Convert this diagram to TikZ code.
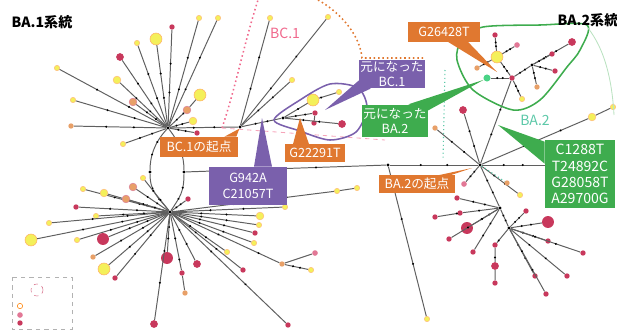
\documentclass[tikz,border=0pt]{standalone}
\usepackage{fontspec}
\setmainfont{Noto Sans CJK JP}
\usetikzlibrary{decorations.markings}

\definecolor{boxorange}{RGB}{224,120,48}
\definecolor{boxpurple}{RGB}{122,96,172}
\definecolor{boxgreen}{RGB}{62,172,78}
\definecolor{bcpink}{RGB}{240,104,140}
\definecolor{bateal}{RGB}{92,200,168}
\definecolor{leafyel}{RGB}{244,240,90}
\definecolor{leafred}{RGB}{200,56,92}
\definecolor{leaforg}{RGB}{232,160,104}
\definecolor{leafpnk}{RGB}{226,120,150}
\definecolor{edgegray}{RGB}{95,95,95}

\tikzset{
  edge/.style={draw=edgegray, line width=0.7pt,
    postaction={decorate, decoration={markings,
      mark=at position 0.35 with {\fill[black] (0,0) circle (0.8pt);},
      mark=at position 0.65 with {\fill[black] (0,0) circle (0.8pt);}}}},
  hub/.style={circle, fill=black, inner sep=0pt, minimum size=2.2pt},
  leaf/.style={circle, inner sep=0pt, line width=0.4pt},
  yelS/.style={leaf, fill=leafyel, draw=orange!50, minimum size=3.8pt},
  yelM/.style={leaf, fill=leafyel, draw=orange!50, minimum size=5.5pt},
  yelL/.style={leaf, fill=leafyel, draw=orange!60, minimum size=8.5pt},
  redS/.style={leaf, fill=leafred, minimum size=3.8pt},
  redM/.style={leaf, fill=leafred, minimum size=5.5pt},
  redL/.style={leaf, fill=leafred, minimum size=8.5pt},
  orgS/.style={leaf, fill=leaforg, minimum size=3.8pt},
  orgM/.style={leaf, fill=leaforg, draw=leafred!60, minimum size=5.5pt},
  pnkS/.style={leaf, fill=leafpnk, minimum size=4pt},
  tealS/.style={leaf, fill=bateal!80!green, minimum size=5pt},
  callout/.style={text=white, inner sep=1pt, align=center,
    font=\fontsize{9}{11}\selectfont},
  orgbox/.style={callout, fill=boxorange},
  purbox/.style={callout, fill=boxpurple},
  grnbox/.style={callout, fill=boxgreen}
}

\begin{document}
\begin{tikzpicture}[x=0.025cm, y=-0.025cm]
\useasboundingbox (0,0) rectangle (617,329);

% hubs
\node[hub] (hubA) at (168,128) {};%BA.1 oben
\node[hub] (hubB) at (170,212) {};%BA.1 unten
\node[hub] (hubC) at (240,127) {};%BC.1 Ursprung
\node[hub] (hubK) at (283,118) {};
\node[hub] (loopL) at (150,172) {};
\node[hub] (loopR) at (184,172) {};
\node[hub] (hubM) at (388,165) {};
\node[hub] (hubD) at (480,165) {};%BA.2 Ursprung
\node[hub] (hubE) at (500,208) {};
\node[hub] (hubF) at (509,228) {};
\node[redS] (hubG) at (495,245) {};
\node[redS] (hubH) at (512,78) {};%BA.2 Gruppe
\node[hub] (hubJ) at (532,65) {};
\node[yelL] (hubY) at (497,57) {};
\node[tealS] (ba2node) at (487,78) {};

% loop between the two BA.1 hubs
\draw[edge] (hubA) .. controls +(-14,15) and +(0,-15) .. (loopL);
\draw[edge] (loopL) .. controls +(0,20) and +(-12,-15) .. (hubB);
\draw[edge] (hubA) .. controls +(12,15) and +(0,-15) .. (loopR);
\draw[edge] (loopR) .. controls +(0,20) and +(10,-15) .. (hubB);

% BA.1 upper star
\foreach \x/\y/\s [count=\i] in {199/18/yelS, 218/18/yelS, 172/27/redS,
    156/39/yelL, 137/43/yelS, 120/57/redM, 57/68/yelS, 117/80/yelM,
    73/100/yelS, 133/102/orgM, 71/126/orgS, 123/144/yelS, 197/133/redS,
    193/121/yelM}{
  \node[\s] (a\i) at (\x,\y) {};
  \draw[edge] (hubA) -- (a\i);
}
\node[orgM] (a20) at (187,110) {};
\node[yelL] (a21) at (200,95) {};
\draw[edge] (hubA) -- (a20) -- (a21);

% BA.1 lower star
\foreach \x/\y/\s [count=\i] in {143/178/yelS, 133/187/orgM, 83/189/yelS,
    104/193/yelM, 126/199/orgM, 76/207/redS, 96/216/yelS, 49/223/yelS,
    31/240/yelL, 77/240/yelS, 103/239/redL, 93/257/orgS, 104/269/yelL,
    115/278/redS, 167/258/redL, 197/264/redM, 154/324/redM, 243/270/redS,
    288/325/redS, 188/199/redS, 285/207/yelS, 260/216/yelM, 259/225/yelS,
    255/233/redS, 254/243/yelS, 227/252/yelS}{
  \node[\s] (b\i) at (\x,\y) {};
  \draw[edge] (hubB) -- (b\i);
}
\node[redS] (b30) at (182,273) {};
\node[orgS] (b31) at (185,293) {};
\draw[edge] (hubB) -- (b30) -- (b31);
\node[yelS] (b32) at (337,191) {};
\node[yelS] (b33) at (357,188) {};
\draw[edge] (hubB) -- (b32) -- (b33);
\node[orgS] (b34) at (282,264) {};
\node[pnkS] (b35) at (315,253) {};
\node[yelS] (b36) at (311,270) {};
\draw[edge] (hubB) -- (b34) -- (b35);
\draw[edge] (b34) -- (b36);

% BC.1 branch
\draw[edge] (hubA) -- (hubC);
\foreach \x/\y/\s [count=\i] in {270/18/yelS, 328/17/yelS, 292/80/yelS}{
  \node[\s] (c\i) at (\x,\y) {};
  \draw[edge] (hubC) -- (c\i);
}
\draw[edge] (hubC) -- (hubK);
\node[yelL] (k1) at (313,100) {};
\node[yelS] (k2) at (339,92) {};
\node[redS] (k3) at (315,113) {};
\node[redS] (k4) at (314,123) {};
\node[redM] (k5) at (342,124) {};
\draw[edge] (hubK) -- (k1) -- (k2);
\draw[edge] (hubK) -- (k3) -- (k4);
\draw[edge] (hubK) -- (k5);

% long line to BA.2
\draw[edge] (loopR) -- (hubM);
\draw[edge] (hubM) -- (hubD);
\node[yelS] (m1) at (427,319) {};
\draw[edge] (hubM) -- (m1);

% BA.2 lower part
\foreach \x/\y/\s [count=\i] in {463/110/redM, 435/128/orgS, 464/184/pnkS,
    520/195/yelS}{
  \node[\s] (d\i) at (\x,\y) {};
  \draw[edge] (hubD) -- (d\i);
}
\node[yelM] (d10) at (592,117) {};
\node[yelS] (d11) at (613,107) {};
\draw[edge] (hubD) -- (d10) -- (d11);
\node[orgS] (d12) at (507,183) {};
\draw[bateal, dotted, line width=0.8pt] (hubD) -- (d12);
\draw[edge] (hubD) -- (hubE);
\draw[edge] (hubE) -- (hubF);
\draw[edge] (hubD) -- (hubH);

\foreach \x/\y/\s [count=\i] in {457/198/redS, 467/228/redL, 449/239/redS,
    473/252/redS}{
  \node[\s] (e\i) at (\x,\y) {};
  \draw[edge] (hubE) -- (e\i);
}
\node[redS] (e10) at (460,213) {};
\node[redS] (e11) at (435,217) {};
\draw[edge] (hubE) -- (e10) -- (e11);

\foreach \x/\y/\s [count=\i] in {526/211/redS, 548/222/redL, 548/241/redS,
    583/253/redS, 535/276/redS, 567/276/redS, 546/294/redS}{
  \node[\s] (f\i) at (\x,\y) {};
  \draw[edge] (hubF) -- (f\i);
}
\node[redM] (g1) at (495,266) {};
\node[redS] (g2) at (495,283) {};
\draw[edge] (hubF) -- (hubG) -- (g1) -- (g2);

% BA.2 group
\draw[edge] (hubH) -- (hubY);
\draw[edge] (hubH) -- (hubJ);
\draw[edge] (hubH) -- (ba2node);
\foreach \x/\y/\s [count=\i] in {495/35/redS, 517/45/pnkS, 477/68/orgS}{
  \node[\s] (y\i) at (\x,\y) {};
  \draw[edge] (hubY) -- (y\i);
}
\foreach \x/\y/\s [count=\i] in {572/42/redM, 552/54/redS, 555/71/redS,
    537/87/orgS}{
  \node[\s] (j\i) at (\x,\y) {};
  \draw[edge] (hubJ) -- (j\i);
}
\node[yelS] (h1) at (522,99) {};
\draw[edge] (hubH) -- (h1);

% lassos
\draw[bcpink, dotted, line width=1.1pt] (222,128) .. controls (235,90) and (245,40) .. (258,0);
\draw[bcpink!60, dashed, line width=0.6pt] (222,128) -- (385,140);
\draw[boxorange, dotted, line width=1.1pt] (318,0) .. controls (340,12) and (360,35) .. (362,58) -- (425,58);
\draw[boxpurple, line width=1.1pt] plot[smooth cycle] coordinates {(274,120) (300,100) (330,84) (358,88) (367,108) (356,132) (330,140) (300,131)};
\draw[boxgreen, line width=1.1pt] plot[smooth cycle] coordinates {(483,27) (540,25) (587,25) (580,50) (567,67) (540,100) (513,110) (473,90) (457,60) (462,40)};
\draw[boxgreen!35, line width=0.6pt] (588,28) .. controls (605,50) and (612,80) .. (614,115);
\draw[bateal, dotted, line width=0.8pt] (445,70) -- (443,160);

% titles
\node[font=\fontsize{10}{12}\selectfont\bfseries] (ba1title) at (42,22) {BA.1系統};
\node[font=\fontsize{10}{12}\selectfont\bfseries] (ba2title) at (588,20) {BA.2系統};
\node[font=\fontsize{10}{12}\selectfont, text=bcpink] (bclabel) at (285,33) {BC.1};
\node[font=\fontsize{10}{12}\selectfont, text=bateal] (balabel) at (535,120) {BA.2};

% callouts
\node[orgbox, minimum width=1.95cm, minimum height=0.5cm] (bcorig) at (199,147) {BC.1の起点};
\fill[boxorange] ([xshift=-0.35cm]bcorig.north east) -- ([xshift=-0.05cm]bcorig.north east) -- (hubC) -- cycle;

\coordinate (g2229tip) at (300,118);
\node[orgbox, minimum width=1.5cm, minimum height=0.43cm] (g2229) at (315,153) {G22291T};
\fill[boxorange] ([xshift=-0.55cm]g2229.north) -- ([xshift=-0.15cm]g2229.north) -- (g2229tip) -- cycle;

\coordinate (g942tip) at (262,118);
\node[purbox, minimum width=1.93cm, minimum height=0.95cm] (g942) at (248,186) {G942A\\C21057T};
\fill[boxpurple] ([xshift=0.15cm]g942.north) -- ([xshift=0.6cm]g942.north) -- (g942tip) -- cycle;

\coordinate (bc1tip) at (325,110);
\node[purbox, minimum width=1.48cm, minimum height=0.7cm] (bc1src) at (392,74) {元になった\\BC.1};
\fill[boxpurple] ([yshift=0.2cm]bc1src.south west) -- ([xshift=0.3cm]bc1src.south west) -- (bc1tip) -- cycle;

\coordinate (g26428tip) at (497,72);
\node[orgbox, minimum width=1.8cm, minimum height=0.48cm] (g26428) at (444,32) {G26428T};
\fill[boxorange] ([xshift=0.1cm]g26428.south) -- ([xshift=0.6cm]g26428.south) -- (g26428tip) -- cycle;

\node[grnbox, minimum width=1.5cm, minimum height=0.82cm] (ba2src) at (395,121) {元になった\\BA.2};
\fill[boxgreen] ([xshift=-0.5cm]ba2src.north east) -- ([yshift=-0.15cm]ba2src.north east) -- (ba2node) -- cycle;

\coordinate (muttip) at (498,125);
\node[grnbox, minimum width=1.75cm, minimum height=1.7cm, font=\fontsize{10}{11.5}\selectfont] (mutbox) at (580,174) {C1288T\\T24892C\\G28058T\\A29700G};
\draw[edge] (hubD) -- (hubD -| mutbox.west);
\fill[boxgreen] ([yshift=-0.05cm]mutbox.north west) -- ([yshift=-0.6cm]mutbox.north west) -- (muttip) -- cycle;

\coordinate (ba2tip) at (472,168);
\node[orgbox, minimum width=1.88cm, minimum height=0.43cm] (ba2orig) at (417,184) {BA.2の起点};
\fill[boxorange] ([xshift=-0.4cm]ba2orig.north east) -- ([xshift=-0.1cm]ba2orig.north east) -- (ba2tip) -- cycle;

% legend
\draw[gray!60, dashed] (12,277) rectangle (72,329);
\draw[leafred!70, dashed] (37,290) circle (0.15cm);
\node[yelS, fill=none, draw=orange] (lg1) at (20,306) {};
\node[pnkS] (lg2) at (20,315) {};
\node[redS] (lg3) at (20,323) {};

\end{tikzpicture}
\end{document}
